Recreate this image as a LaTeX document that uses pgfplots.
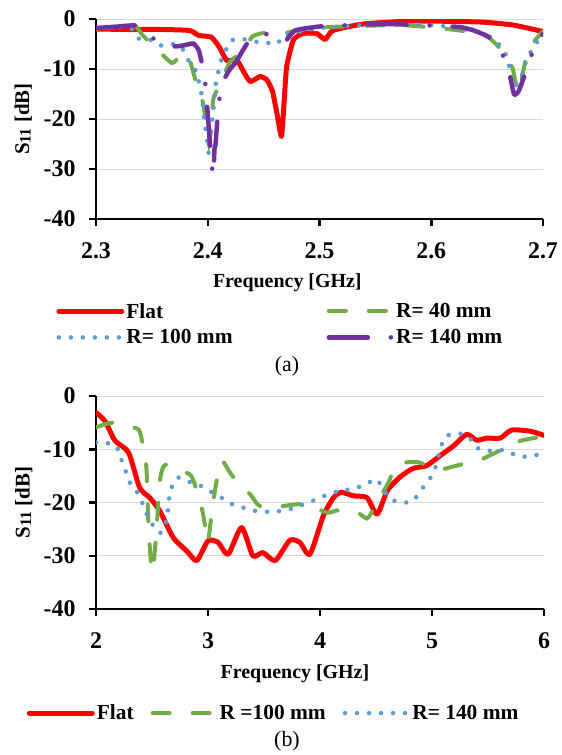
\documentclass[border=0pt]{standalone}
\usepackage{fontspec}
\setmainfont{Liberation Serif}
\usepackage{pgfplots}
\pgfplotsset{compat=1.18}
\definecolor{cRed}{HTML}{FF0000}
\definecolor{cGreen}{HTML}{70AD47}
\definecolor{cBlue}{HTML}{5B9BD5}
\definecolor{cPurple}{HTML}{7030A0}
\definecolor{cGrid}{HTML}{D9D9D9}
\pgfplotsset{
  myaxis/.style={
    scale only axis,
    anchor=south west,
    axis x line*=bottom, axis y line*=left,
    axis line style={line width=2.5bp, black, -},
    tick style={line width=2.5bp, black},
    tick align=outside,
    major tick length=7bp,
    ymin=-40, ymax=0,
    ytick={-40,-30,-20,-10,0},
    yticklabels={-40,-30,-20,-10,0},
    ymajorgrids,
    grid style={cGrid, line width=1bp},
    ticklabel style={font=\fontsize{24}{28}\selectfont\bfseries},
    yticklabel style={xshift=-10bp},
    xticklabel style={yshift=-13bp},
    label style={font=\fontsize{20}{24}\selectfont\bfseries},
    ylabel={S{\fontsize{16}{16}\selectfont\raisebox{-1.5bp}{11}} [dB]},
    ylabel style={font=\fontsize{21}{24}\selectfont\bfseries},
    xlabel={Frequency [GHz]},
    legend image code/.code={\draw[##1] (0bp,0bp) -- (63bp,0bp);},
    legend style={draw=none, fill=none, font=\fontsize{21.5}{24}\selectfont\bfseries, anchor=north west, inner sep=0pt},
    legend cell align=left,
  },
  sRed/.style={cRed, line width=5bp, line join=round, line cap=round},
  sGreen/.style={cGreen, line width=4bp, line cap=round, dash pattern=on 17bp off 23bp},
  sBlue/.style={cBlue, line width=4.5bp, line cap=round, dash pattern=on 0bp off 12bp},
  sPurple/.style={cPurple, line width=4.5bp, line cap=round, dash pattern=on 39bp off 23bp on 0bp off 23bp},
}
\begin{document}
\begin{tikzpicture}
\path[use as bounding box] (0,0) rectangle (562bp,-755bp);
% ---------------- (a) ----------------
\begin{axis}[myaxis,
  at={(96bp,-219bp)}, width=447bp, height=200bp,
  xmin=2.3, xmax=2.7,
  xtick={2.3,2.4,2.5,2.6,2.7},
  xticklabels={2.3,2.4,2.5,2.6,2.7},
  ylabel style={at={(axis description cs:-0.163,0.5)}, anchor=center},
  xlabel style={at={(axis description cs:0.428,-0.32)}, anchor=center},
  legend columns=2,
  legend style={at={(axis description cs:-0.089,-0.41)}, row sep=6bp, /tikz/every even column/.append style={column sep=92bp}},
]
\addplot[sRed, smooth, tension=0.3] table {
2.300 -2.0
2.330 -2.1
2.360 -2.1
2.384 -2.3
2.392 -3.3
2.403 -3.6
2.410 -5.5
2.417 -8.3
2.426 -8.2
2.432 -10.5
2.438 -12.5
2.447 -11.5
2.453 -12.2
2.458 -14.5
2.462 -19
2.466 -23.5
2.4685 -16
2.4706 -9.5
2.4766 -4.2
2.485 -2.9
2.4975 -2.9
2.505 -4.1
2.512 -2.3
2.539 -1.0
2.584 -0.4
2.644 -0.6
2.673 -1.2
2.700 -2.5
};
\addlegendentry{Flat}
\addplot[sGreen, smooth, tension=0.3] table {
2.300 -1.9
2.320 -1.6
2.335 -1.4
2.342 -3.3
2.355 -6.2
2.368 -8.8
2.375 -7.5
2.382 -7.0
2.390 -13.0
2.396 -17.0
2.399 -22.0
2.401 -25.0
2.403 -22
2.405 -16.0
2.412 -12.5
2.420 -8.5
2.430 -6.7
2.440 -3.5
2.450 -2.8
2.457 -3.4
2.465 -3.0
2.476 -2.5
2.500 -1.7
2.550 -1.3
2.580 -1.3
2.610 -1.9
2.632 -2.5
2.650 -3.5
2.660 -5.5
2.668 -8.0
2.673 -10.0
2.678 -14.5
2.685 -7.7
2.692 -4.5
2.700 -2.5
};
\addlegendentry{R= 40 mm}
\addplot[sBlue, smooth, tension=0.3] table {
2.300 -1.8
2.320 -1.6
2.332 -2.0
2.338 -3.9
2.348 -4.1
2.357 -5.3
2.368 -5.0
2.376 -5.5
2.384 -8.8
2.390 -10.7
2.395 -15.7
2.397 -20.7
2.399 -23.3
2.401 -27.0
2.403 -22
2.405 -18.3
2.407 -13.3
2.409 -11.0
2.412 -8.3
2.416 -6.3
2.421 -4.3
2.431 -4.0
2.441 -4.5
2.452 -4.7
2.462 -5.0
2.469 -3.2
2.500 -1.8
2.550 -1.1
2.600 -1.2
2.630 -2.0
2.645 -2.8
2.655 -3.9
2.663 -5.7
2.668 -7.7
2.670 -10.0
2.672 -12.3
2.675 -13.5
2.681 -11.3
2.684 -9.0
2.688 -7.0
2.693 -5.0
2.700 -3.5
};
\addlegendentry{R= 100 mm}
\addplot[sPurple, smooth, tension=0.3] table {
2.300 -1.8
2.320 -1.5
2.336 -1.3
2.345 -3.0
2.360 -5.0
2.370 -5.5
2.378 -5.3
2.387 -4.9
2.392 -6.3
2.397 -11.3
2.399 -16.2
2.401 -22
2.403 -28
2.405 -31.4
2.406 -26
2.407 -25
2.410 -16.5
2.415 -12.0
2.420 -10
2.425 -8.7
2.435 -5.0
2.445 -3.2
2.452 -3.0
2.460 -3.5
2.469 -4.5
2.478 -2.3
2.500 -1.5
2.530 -1.2
2.560 -1.0
2.600 -1.3
2.625 -1.6
2.637 -2.2
2.650 -3.4
2.660 -5.3
2.669 -10.0
2.674 -15.0
2.678 -14.5
2.684 -11
2.690 -7.0
2.695 -4.5
2.700 -3.0
};
\addlegendentry{R= 140 mm}
\end{axis}
\node[font=\fontsize{22}{26}\selectfont] at (287bp,-366bp) {(a)};
% ---------------- (b) ----------------
\begin{axis}[myaxis,
  at={(96bp,-609bp)}, width=448bp, height=213bp,
  xmin=2, xmax=6,
  xtick={2,3,4,5,6},
  xticklabels={2,3,4,5,6},
  ylabel style={at={(axis description cs:-0.161,0.5)}, anchor=center},
  xlabel style={at={(axis description cs:0.444,-0.305)}, anchor=center},
  legend columns=3,
  legend style={at={(axis description cs:-0.155,-0.44)}, /tikz/every even column/.append style={column sep=15bp}},
]
\addplot[sRed, smooth, tension=0.4] table {
2.00 -3.1
2.08 -4.7
2.17 -8.4
2.29 -10.6
2.39 -17.2
2.48 -19.1
2.57 -21.6
2.69 -26.6
2.81 -29.1
2.90 -30.9
3.00 -27.2
3.09 -27.5
3.18 -29.7
3.30 -24.7
3.40 -30.0
3.49 -29.4
3.60 -30.9
3.73 -27.1
3.82 -27.5
3.91 -29.7
4.03 -22.5
4.12 -19.1
4.19 -18.1
4.30 -18.75
4.42 -19.1
4.51 -22.2
4.60 -17.8
4.71 -15.3
4.83 -13.6
4.95 -13.1
5.07 -11.25
5.19 -9.4
5.31 -7.2
5.40 -8.3
5.49 -7.9
5.61 -7.9
5.71 -6.4
5.875 -6.6
6.00 -7.4
};
\addlegendentry{Flat}
\addplot[sGreen, smooth, tension=0.4] table {
2.00 -5.9
2.08 -5.3
2.16 -5.0
2.25 -5.5
2.38 -6.3
2.42 -9.4
2.45 -13.5
2.47 -25
2.50 -33.0
2.53 -28
2.55 -22
2.57 -16
2.60 -13.3
2.65 -12.8
2.75 -14.0
2.85 -15.0
2.93 -19.7
2.98 -25
3.00 -27.5
3.03 -22.5
3.06 -18.0
3.10 -13.5
3.13 -12.2
3.20 -14.5
3.30 -17.2
3.375 -18.4
3.45 -20.5
3.55 -21.0
3.69 -20.6
3.87 -20.3
4.06 -21.9
4.15 -21.5
4.25 -21.6
4.33 -21.8
4.42 -23.0
4.47 -21.5
4.52 -19.6
4.61 -16.3
4.68 -13.0
4.80 -12.4
4.89 -12.5
5.00 -13.5
5.09 -13.75
5.18 -13.3
5.27 -12.8
5.35 -12.3
5.44 -11.9
5.61 -10.2
5.70 -9.2
5.79 -8.4
5.96 -7.7
6.00 -7.5
};
\addlegendentry{R =100 mm}
\addplot[sBlue, smooth, tension=0.4] table {
2.00 -8.75
2.08 -8.75
2.18 -9.4
2.22 -11.6
2.26 -13.75
2.29 -15.9
2.36 -17.8
2.41 -19.9
2.45 -22
2.50 -24
2.57 -25.75
2.62 -24.1
2.64 -21.9
2.65 -19.7
2.67 -17.4
2.73 -15.3
2.83 -16.1
2.93 -16.8
3.02 -17.9
3.12 -19.1
3.21 -20.25
3.32 -21
3.43 -21.6
3.54 -21.75
3.65 -21.6
3.76 -21.1
3.86 -20.3
3.97 -19.4
4.08 -18.4
4.19 -17.8
4.30 -17.4
4.40 -16.7
4.50 -15.6
4.56 -17.3
4.62 -19.2
4.72 -20
4.83 -19.75
4.89 -17.9
4.96 -16.2
5.02 -14.1
5.05 -11.9
5.08 -9.6
5.12 -7.6
5.23 -7.0
5.33 -7.7
5.39 -9.6
5.50 -10.3
5.61 -10.1
5.71 -10.8
5.82 -11.4
5.93 -11.1
6.00 -10.6
};
\addlegendentry{R= 140 mm}
\end{axis}
\node[font=\fontsize{22}{26}\selectfont] at (287bp,-741bp) {(b)};
\end{tikzpicture}
\end{document}
